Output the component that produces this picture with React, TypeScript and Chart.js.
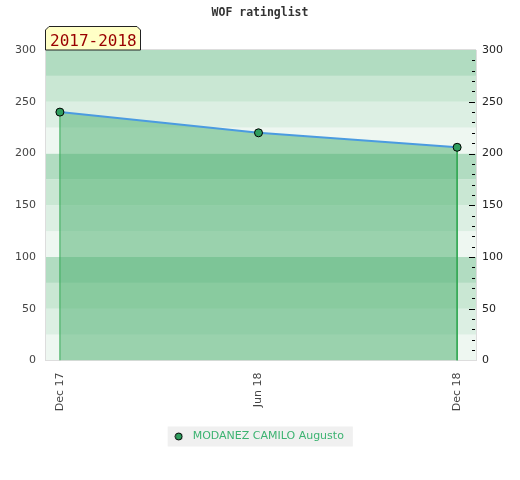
import React, { useEffect, useRef } from "react";
import { Chart, registerables } from "chart.js";

Chart.register(...registerables);

// ---- data ----
const monthOffsets = [0, 6, 12];
const tickLabels = ["Dec 17", "Jun 18", "Dec 18"];
const ratings = [240, 220, 206];
const playerName = "MODANEZ CAMILO Augusto";
const periodLabel = "2017-2018";
const chartTitle = "WOF ratinglist";
const yTicks = [0, 50, 100, 150, 200, 250, 300];
const bandStep = 25;
const bandColors = ["#eef7f1", "#dcefe3", "#c9e7d3", "#b1dcc1"];

const FILL = "rgba(80,177,113,0.53)";
const LINE_BLUE = "#4b9be0";
const EDGE_GREEN = "#34a855";
const POINT_FILL = "#2f9e5e";

export default function App() {
  const ref = useRef<HTMLCanvasElement | null>(null);

  useEffect(() => {
    document.body.style.margin = "0";
    const canvas = ref.current!;

    const legendDot = document.createElement("canvas");
    legendDot.width = 9;
    legendDot.height = 9;
    const dctx = legendDot.getContext("2d")!;
    dctx.beginPath();
    dctx.arc(4.5, 4.5, 3.5, 0, Math.PI * 2);
    dctx.fillStyle = POINT_FILL;
    dctx.fill();
    dctx.lineWidth = 1;
    dctx.strokeStyle = "#000";
    dctx.stroke();

    const first = monthOffsets[0];
    const last = monthOffsets[monthOffsets.length - 1];
    const data = [
      { x: first, y: 0 },
      ...monthOffsets.map((m, i) => ({ x: m, y: ratings[i] })),
      { x: last, y: 0 },
    ];
    const n = data.length;

    const decor = {
      id: "decor",
      afterLayout(chart: any) {
        const lg = chart.legend;
        if (lg) {
          lg.left -= 3;
          lg.right -= 3;
        }
      },
      beforeDraw(chart: any) {
        const { ctx, chartArea: a, scales } = chart;
        const y = scales.y;
        ctx.save();
        for (let v = 0; v < 300; v += bandStep) {
          const top = y.getPixelForValue(v + bandStep);
          const bot = y.getPixelForValue(v);
          ctx.fillStyle = bandColors[(v / bandStep) % bandColors.length];
          ctx.fillRect(a.left, top, a.right - a.left, bot - top);
        }
        ctx.strokeStyle = "#dddddd";
        ctx.lineWidth = 1;
        ctx.beginPath();
        ctx.moveTo(a.left, Math.round(a.top) - 0.5);
        ctx.lineTo(a.right, Math.round(a.top) - 0.5);
        ctx.stroke();
        // legend background
        const lg = chart.legend;
        if (lg && lg.legendHitBoxes && lg.legendHitBoxes.length) {
          const hb = lg.legendHitBoxes[0];
          ctx.fillStyle = "#f0f0f0";
          ctx.fillRect(hb.left - 2.5, hb.top + hb.height / 2 - 10, hb.width + 11.5, 20);
        }
        ctx.restore();
      },
      afterDraw(chart: any) {
        const { ctx, chartArea: a, scales } = chart;
        const y = scales.y;
        ctx.save();
        ctx.strokeStyle = "#000";
        ctx.lineWidth = 1;
        for (let v = 10; v < 300; v += 10) {
          const py = Math.round(y.getPixelForValue(v)) + 0.5;
          const len = v % 50 === 0 ? 6 : 3;
          ctx.beginPath();
          ctx.moveTo(a.right - 1 - len, py);
          ctx.lineTo(a.right - 1, py);
          ctx.stroke();
        }
        // period label box
        const l = a.left;
        const r = l + 96;
        const t = a.top - 24;
        const b = a.top;
        const c = 4;
        ctx.beginPath();
        ctx.moveTo(l + 0.5, b);
        ctx.lineTo(l + 0.5, t + c);
        ctx.lineTo(l + c, t + 0.5);
        ctx.lineTo(r - c, t + 0.5);
        ctx.lineTo(r - 0.5, t + c);
        ctx.lineTo(r - 0.5, b);
        ctx.closePath();
        ctx.fillStyle = "#ffffc6";
        ctx.fill();
        ctx.strokeStyle = "#222";
        ctx.stroke();
        ctx.fillStyle = "#990000";
        ctx.font = "16px 'DejaVu Sans Mono'";
        ctx.textBaseline = "alphabetic";
        ctx.textAlign = "left";
        ctx.fillText(periodLabel, l + 5, b - 4);
        ctx.restore();
      },
    };

    const tickFont = { family: "'DejaVu Sans'", size: 11 };

    const chart = new Chart(canvas, {
      type: "line",
      data: {
        datasets: [
          {
            label: playerName,
            data,
            fill: "origin",
            backgroundColor: FILL,
            borderColor: LINE_BLUE,
            borderWidth: 2,
            tension: 0,
            segment: {
              borderColor: (ctx: any) =>
                ctx.p0.parsed.x === ctx.p1.parsed.x ? EDGE_GREEN : LINE_BLUE,
              borderWidth: (ctx: any) =>
                ctx.p0.parsed.x === ctx.p1.parsed.x ? 1 : 2,
            },
            pointRadius: (ctx: any) =>
              ctx.dataIndex === 0 || ctx.dataIndex === n - 1 ? 0 : 4,
            pointHoverRadius: 0,
            pointBackgroundColor: POINT_FILL,
            pointBorderColor: "#000",
            pointBorderWidth: 1,
          } as any,
        ],
      },
      options: {
        animation: false,
        responsive: false,
        devicePixelRatio: 1,
        layout: { padding: { top: 0, bottom: 28, left: 0, right: 0 } },
        plugins: {
          title: {
            display: true,
            text: chartTitle,
            color: "#333",
            font: { family: "'DejaVu Sans Mono'", size: 11.5, weight: "bold", lineHeight: 1.2 },
            padding: { top: 6.5, bottom: 29.7 },
          },
          legend: {
            display: true,
            position: "bottom",
            labels: {
              usePointStyle: true,
              pointStyle: legendDot as any,
              pointStyleWidth: 17,
              color: "#3cb371",
              font: { family: "'DejaVu Sans'", size: 11 },
              padding: 10,
            },
          },
          tooltip: { enabled: false },
        },
        scales: {
          x: {
            type: "linear",
            min: -0.45,
            max: 12.57,
            afterBuildTicks: (s: any) => {
              s.ticks = monthOffsets.map((v) => ({ value: v }));
            },
            afterFit: (s: any) => {
              s.height = 60.5;
            },
            grid: { display: false, drawTicks: false },
            border: { display: true, color: "#dddddd" },
            ticks: {
              autoSkip: false,
              minRotation: 90,
              maxRotation: 90,
              padding: 12,
              color: "#444",
              font: tickFont,
              callback: (v: any) => {
                const i = monthOffsets.indexOf(Number(v));
                return i >= 0 ? tickLabels[i] : "";
              },
            },
          },
          y: {
            position: "left",
            min: 0,
            max: 300,
            afterBuildTicks: (s: any) => {
              s.ticks = yTicks.map((v) => ({ value: v }));
            },
            afterFit: (s: any) => {
              s.width = 45;
            },
            grid: { display: false, drawTicks: false },
            border: { display: true, color: "#dddddd" },
            ticks: {
              padding: 9,
              color: "#444",
              font: tickFont,
            },
          },
          y2: {
            position: "right",
            min: 0,
            max: 300,
            afterBuildTicks: (s: any) => {
              s.ticks = yTicks.map((v) => ({ value: v }));
            },
            afterFit: (s: any) => {
              s.width = 44;
            },
            grid: { display: false, drawTicks: false },
            border: { display: true, color: "#dddddd" },
            ticks: {
              padding: 6,
              color: "#222",
              font: tickFont,
            },
          },
        },
      },
      plugins: [decor],
    });

    return () => chart.destroy();
  }, []);

  return <canvas ref={ref} width={520} height={480} style={{ display: "block" }} />;
}
